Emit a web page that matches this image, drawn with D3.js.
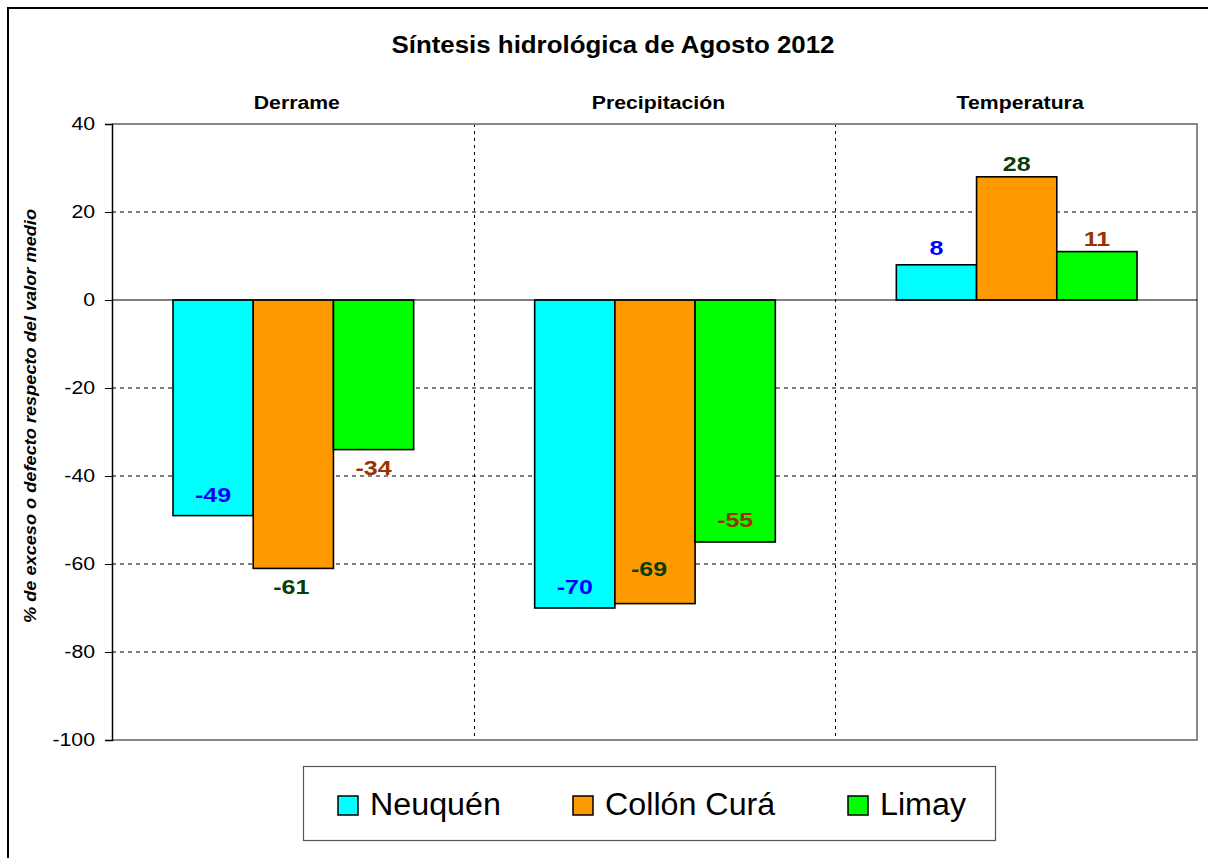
<!DOCTYPE html>
<html><head><meta charset="utf-8">
<script src="https://cdn.jsdelivr.net/npm/d3@7"></script>
<style>
html,body{margin:0;padding:0;background:#fff;}
svg{display:block;font-family:Arial,"Liberation Sans",sans-serif;}
</style></head>
<body>
<svg id="c" width="1208" height="858"></svg>
<script>
// ---- data ----
const title = "Síntesis hidrológica de Agosto 2012";
const yTitle = "% de exceso o defecto respecto del valor medio";
const groups = ["Derrame", "Precipitación", "Temperatura"];
const series = ["Neuquén", "Collón Curá", "Limay"];
const neuquen = [-49, -70, 8];
const collonCura = [-61, -69, 28];
const limay = [-34, -55, 11];
const yTicks = [40, 20, 0, -20, -40, -60, -80, -100];

// ---- styles / layout ----
const fills = ["#00FFFF", "#FF9900", "#00FF00"];
const labelColors = ["#0000FF", "#0B3D0B", "#993300"];
// label vertical offset from bar end (px), per group x series
const labelOffsets = [[-21, 18, 18], [-21, -35, -22], [-17, -13, -13]];
const labelDx = [[0, -2, 0], [0, -6, 0], [0, 0, 0]];

const svg = d3.select("#c");
function stretch(sel, k) {
  sel.each(function () {
    const w = this.getComputedTextLength();
    this.setAttribute("textLength", w * k);
    this.setAttribute("lengthAdjust", "spacingAndGlyphs");
  });
}

// outer border
svg.append("rect").attr("x", 8).attr("y", 8).attr("width", 1220).attr("height", 880)
  .attr("fill", "none").attr("stroke", "#000").attr("stroke-width", 2);

const L = 112, R = 1197, T = 124, B = 740;
const y = d3.scaleLinear().domain([-100, 40]).range([B, T]);
const x0 = d3.scaleBand().domain(groups).range([L, R]).padding(0);
const gw = x0.bandwidth();
const x1 = d3.scaleBand().domain(series).range([61, gw - 60]).padding(0);

const values = [neuquen, collonCura, limay];
const data = [];
groups.forEach((g, gi) => series.forEach((s, si) => data.push({ g, gi, s, si, v: values[si][gi] })));

// gridlines (dashed)
svg.append("g").selectAll("line").data(yTicks.filter(t => t !== 40 && t !== 0 && t !== -100)).join("line")
  .attr("x1", L).attr("x2", R).attr("y1", d => y(d)).attr("y2", d => y(d))
  .attr("stroke", "#000").attr("stroke-width", 1).attr("stroke-dasharray", "4,4");

// vertical dividers
svg.append("g").selectAll("line").data(groups.slice(1)).join("line")
  .attr("x1", d => Math.round(x0(d)) + 0.5).attr("x2", d => Math.round(x0(d)) + 0.5)
  .attr("y1", T).attr("y2", B)
  .attr("stroke", "#000").attr("stroke-width", 1).attr("stroke-dasharray", "3,4");

// plot border (gray) top, right, bottom
svg.append("path")
  .attr("d", `M${L},${T}H${R}V${B}H${L}`)
  .attr("fill", "none").attr("stroke", "#888").attr("stroke-width", 2);

// bars
svg.append("g").selectAll("rect").data(data).join("rect")
  .attr("x", d => x0(d.g) + x1(d.s))
  .attr("width", x1.bandwidth())
  .attr("y", d => y(Math.max(0, d.v)))
  .attr("height", d => Math.abs(y(d.v) - y(0)))
  .attr("fill", d => fills[d.si])
  .attr("stroke", "#000").attr("stroke-width", 1.6);

// zero line
svg.append("line").attr("x1", L).attr("x2", R).attr("y1", y(0)).attr("y2", y(0))
  .attr("stroke", "#000").attr("stroke-width", 1.2);

// y axis
const ax = svg.append("g").attr("transform", `translate(${L},0)`)
  .call(d3.axisLeft(y).tickValues(yTicks).tickSize(7).tickPadding(10).tickFormat(d => String(d)));
ax.select(".domain").attr("stroke", "#000").attr("stroke-width", 1.5);
ax.selectAll(".tick line").attr("stroke", "#000");
ax.selectAll(".tick text").attr("font-size", 18).attr("fill", "#000")
  .attr("font-family", 'Arial,"Liberation Sans",sans-serif').call(stretch, 1.18);

// data labels
svg.append("g").selectAll("text").data(data).join("text")
  .attr("x", d => x0(d.g) + x1(d.s) + x1.bandwidth() / 2 + labelDx[d.gi][d.si])
  .attr("y", d => y(d.v) + labelOffsets[d.gi][d.si])
  .attr("dy", "0.36em")
  .attr("text-anchor", "middle")
  .attr("font-size", 20).attr("font-weight", "bold")
  .attr("fill", d => labelColors[d.si])
  .text(d => d.v)
  .call(stretch, 1.25);

// title
svg.append("text").attr("x", 613).attr("y", 53).attr("text-anchor", "middle")
  .attr("font-size", 23).attr("font-weight", "bold").text(title)
  .attr("textLength", 443).attr("lengthAdjust", "spacingAndGlyphs");

// group labels
svg.append("g").selectAll("text").data(groups).join("text")
  .attr("x", d => x0(d) + gw / 2 + 4).attr("y", 109).attr("text-anchor", "middle")
  .attr("font-size", 18).attr("font-weight", "bold").text(d => d).call(stretch, 1.18);

// y title
svg.append("text").attr("transform", "translate(36,416) rotate(-90)")
  .attr("text-anchor", "middle").attr("font-size", 16).attr("font-weight", "bold")
  .attr("font-style", "italic").text(yTitle)
  .attr("textLength", 414).attr("lengthAdjust", "spacingAndGlyphs");

// legend
const lg = svg.append("g");
lg.append("rect").attr("x", 303.5).attr("y", 766.5).attr("width", 692).attr("height", 74)
  .attr("fill", "#fff").attr("stroke", "#555").attr("stroke-width", 1.2);
const legX = [338, 573, 848];
const li = lg.selectAll("g").data(series).join("g")
  .attr("transform", (d, i) => `translate(${legX[i]},0)`);
li.append("rect").attr("x", 0).attr("y", 796).attr("width", 20).attr("height", 19)
  .attr("fill", (d, i) => fills[i]).attr("stroke", "#000").attr("stroke-width", 1.5);
li.append("text").attr("x", 32).attr("y", 815).attr("font-size", 31).attr("fill", "#000")
  .text(d => d).call(stretch, 1.04);
</script>
</body></html>
